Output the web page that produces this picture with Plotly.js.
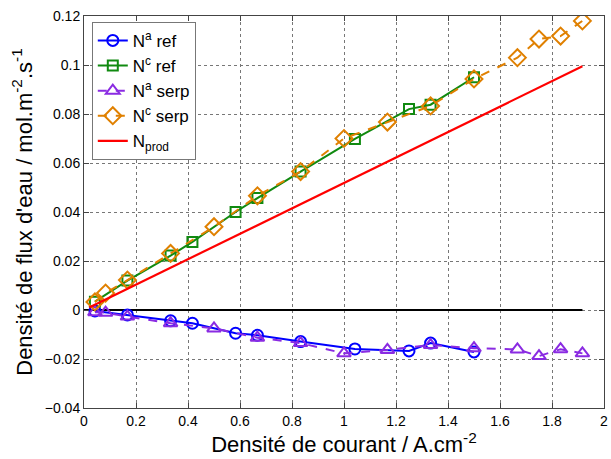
<!DOCTYPE html>
<html><head><meta charset="utf-8">
<script src="https://cdn.plot.ly/plotly-3.0.1.min.js"></script>
<style>html,body{margin:0;padding:0;background:#fff}#chart{width:611px;height:459px}</style>
</head><body><div id="chart"></div>
<script>
// Current density (A.cm-2)
const xRef  = [0.042, 0.167, 0.333, 0.417, 0.583, 0.667, 0.833, 1.042, 1.25, 1.333, 1.5];
const xSerp = [0.042, 0.083, 0.167, 0.333, 0.5, 0.667, 0.833, 1.0, 1.167, 1.333, 1.5, 1.667, 1.75, 1.833, 1.917];
// Water flux densities (mol.m-2.s-1)
const naRef  = [-0.0004, -0.0020, -0.0044, -0.0054, -0.0095, -0.0103, -0.0129, -0.0159, -0.0167, -0.0135, -0.0171];
const ncRef  = [0.0034, 0.0120, 0.0222, 0.0278, 0.0400, 0.0457, 0.0565, 0.0698, 0.0820, 0.0838, 0.0950];
const naSerp = [-0.0009, -0.0011, -0.0027, -0.0054, -0.0075, -0.0113, -0.0135, -0.0177, -0.0163, -0.0143, -0.0156, -0.0161, -0.0188, -0.0160, -0.0177];
const ncSerp = [0.0033, 0.0069, 0.0122, 0.0231, 0.0340, 0.0466, 0.0565, 0.0700, 0.0767, 0.0833, 0.0943, 0.1030, 0.1106, 0.1118, 0.1180];
const xProd = [0.02, 1.917];
const nProd = [0.0010, 0.0995];
const xZero = [0, 1.917];
const yZero = [0, 0];

const traces = [
  {x: xZero, y: yZero, mode: 'lines', line: {color: '#000', width: 2}, showlegend: false, hoverinfo: 'skip'},
  {x: xRef, y: naRef, name: 'N<sup>a</sup> ref', mode: 'lines+markers',
   line: {color: '#0000ff', width: 2}, marker: {symbol: 'circle-open', size: 11, color: '#0000ff', line: {width: 2, color: '#0000ff'}}},
  {x: xRef, y: ncRef, name: 'N<sup>c</sup> ref', mode: 'lines+markers',
   line: {color: '#108a10', width: 2}, marker: {symbol: 'square-open', size: 10, color: '#108a10', line: {width: 2, color: '#108a10'}}},
  {x: xSerp, y: naSerp, name: 'N<sup>a</sup> serp', mode: 'lines+markers',
   line: {color: '#8a2be2', width: 2, dash: 'dash'}, marker: {symbol: 'triangle-up-open', size: 12, color: '#8a2be2', line: {width: 2, color: '#8a2be2'}}},
  {x: xSerp, y: ncSerp, name: 'N<sup>c</sup> serp', mode: 'lines+markers',
   line: {color: '#e08000', width: 2, dash: 'dash'}, marker: {symbol: 'diamond-open', size: 13, color: '#e08000', line: {width: 2, color: '#e08000'}}},
  {x: xProd, y: nProd, name: 'N<sub>prod</sub>', mode: 'lines', line: {color: '#ff0000', width: 2.2}}
];

const FONT = '"Liberation Sans", Arial, sans-serif';
const axisCommon = {
  showline: true, linecolor: '#444', linewidth: 1, mirror: 'ticks',
  ticks: 'inside', ticklen: 5, tickcolor: '#444',
  showgrid: true, gridcolor: '#777', griddash: 'dot', gridwidth: 1,
  zeroline: false,
  tickfont: {family: FONT, size: 14, color: '#000'}
};

const layout = {
  width: 611, height: 459,
  margin: {l: 84, r: 7, t: 16, b: 51},
  paper_bgcolor: '#fff', plot_bgcolor: '#fff',
  font: {family: FONT, color: '#000'},
  xaxis: Object.assign({}, axisCommon, {
    range: [0, 2], dtick: 0.2, tick0: 0, automargin: false,
    title: {text: 'Densité de courant / A.cm<sup>-2</sup>', font: {size: 22}, standoff: 7}
  }),
  yaxis: Object.assign({}, axisCommon, {
    range: [-0.04, 0.12], dtick: 0.02, tick0: 0, automargin: false,
    title: {text: "Densité de flux d'eau / mol.m<sup>-2</sup>.s<sup>-1</sup>", font: {size: 22}, standoff: 6}
  }),
  legend: {
    x: 0.015, y: 0.985, xanchor: 'left', yanchor: 'top',
    bgcolor: '#fff', bordercolor: '#777', borderwidth: 1,
    font: {size: 17}, tracegroupgap: 0
  },
  showlegend: true
};

Plotly.newPlot('chart', traces, layout, {displayModeBar: false, staticPlot: true});
</script></body></html>
